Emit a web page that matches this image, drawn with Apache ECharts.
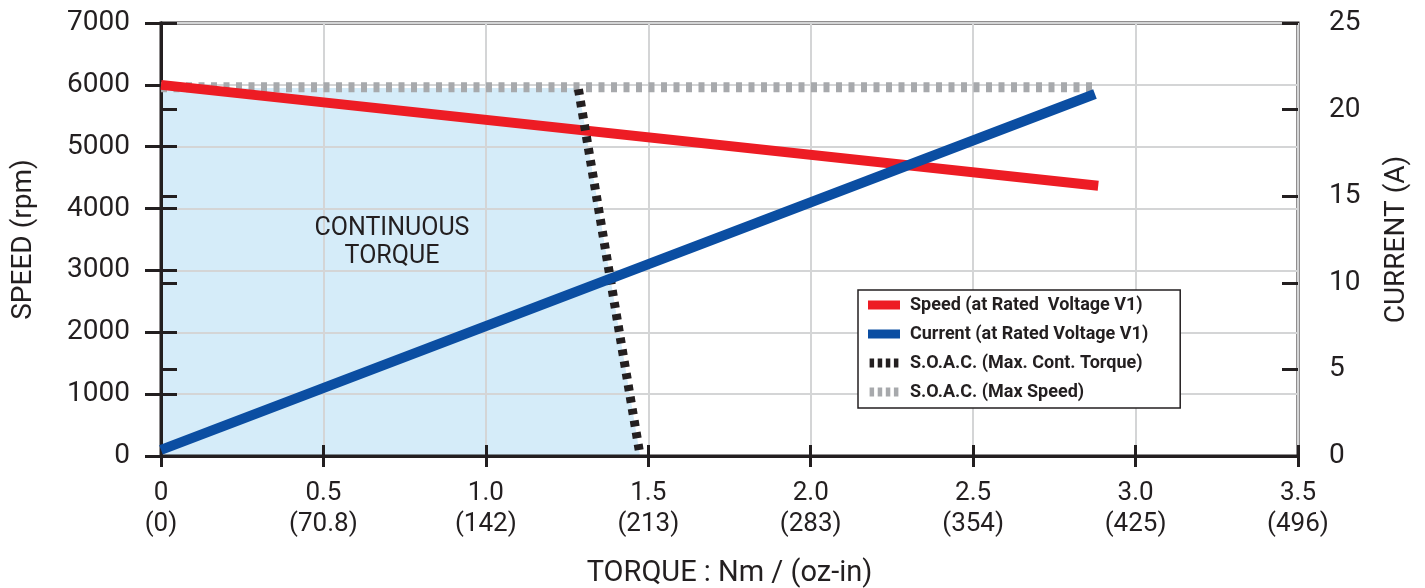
<!DOCTYPE html>
<html>
<head>
<meta charset="utf-8">
<script src="https://cdn.jsdelivr.net/npm/echarts@6/dist/echarts.min.js"></script>
<style>
  html, body { margin: 0; padding: 0; background: #fff; }
  #chart { width: 1425px; height: 588px; }
</style>
</head>
<body>
<div id="chart"></div>
<script>
// torque axis (Nm) and the matching oz-in labels
var torqueLabels = ["0", "0.5", "1.0", "1.5", "2.0", "2.5", "3.0", "3.5"];
var ozInLabels = ["0", "70.8", "142", "213", "283", "354", "425", "496"];

// [torque Nm, value]
var speedData = [[0, 6000], [2.885, 4370]];
var currentData = [[0, 0.35], [2.875, 20.9]];
var maxContTorque = [[1.285, 5930], [1.475, 0]];
var maxSpeed = [[0, 5960], [2.87, 5960]];
var continuousArea = [[0, 5950], [1.285, 5950], [1.475, 0]];

var ink = "#231f20";
var gridGray = "#d4d5d6";
var font = "Roboto";

var myChart = echarts.init(document.getElementById("chart"));

var dashIcon = "path://M0,0h5v10h-5z M9,0h5v10h-5z M18,0h5v10h-5z M27,0h5v10h-5z";

var option = {
  animation: false,
  grid: {
    left: 161,
    right: 127,
    top: 23,
    bottom: 132,
    outerBoundsMode: "none",
    show: true,
    borderColor: ink,
    borderWidth: 3,
  },
  legend: {
    orient: "vertical",
    left: 858,
    top: 290,
    padding: [5, 32, 6, 10],
    itemGap: 9,
    itemWidth: 32,
    itemHeight: 9,
    borderColor: ink,
    borderWidth: 1.5,
    backgroundColor: "#fff",
    textStyle: {
      fontFamily: font,
      fontSize: 18,
      fontWeight: "bold",
      color: ink,
      lineHeight: 20,
      padding: [0, 0, 0, 5],
    },
    data: [
      { name: "Speed (at Rated  Voltage V1)", icon: "rect" },
      { name: "Current (at Rated Voltage V1)", icon: "rect" },
      { name: "S.O.A.C. (Max. Cont. Torque)", icon: dashIcon },
      { name: "S.O.A.C. (Max Speed)", icon: dashIcon },
    ],
  },
  xAxis: [
    {
      type: "value",
      position: "bottom",
      min: 0,
      max: 3.5,
      interval: 0.5,
      name: "TORQUE : Nm / (oz-in)",
      nameLocation: "middle",
      nameGap: 103,
      nameTextStyle: { fontFamily: font, fontSize: 29, color: ink },
      axisLine: { show: true, lineStyle: { color: ink, width: 3 } },
      axisTick: { show: true, inside: false, length: 11, lineStyle: { color: ink, width: 3 } },
      axisLabel: {
        margin: 22,
        fontFamily: font,
        fontSize: 26,
        color: ink,
        lineHeight: 31,
        formatter: function (value) {
          var i = Math.round(value / 0.5);
          return torqueLabels[i] + "\n(" + ozInLabels[i] + ")";
        },
      },
      splitLine: { show: true, lineStyle: { color: gridGray, width: 2 } },
    },
    {
      type: "value",
      position: "bottom",
      min: 0,
      max: 3.5,
      interval: 0.5,
      axisLine: { show: false },
      axisTick: { show: true, inside: true, length: 11, lineStyle: { color: ink, width: 3 } },
      axisLabel: { show: false },
      splitLine: { show: false },
    },
  ],
  yAxis: [
    {
      type: "value",
      position: "left",
      min: 0,
      max: 7000,
      interval: 1000,
      name: "SPEED (rpm)",
      nameLocation: "middle",
      nameGap: 123,
      nameTextStyle: { fontFamily: font, fontSize: 28, color: ink },
      axisLine: { show: true, lineStyle: { color: ink, width: 3 } },
      axisTick: { show: true, inside: false, length: 16, lineStyle: { color: ink, width: 3 } },
      axisLabel: {
        margin: 31,
        fontFamily: font,
        fontSize: 28,
        color: ink,
        formatter: function (value) {
          return String(value);
        },
      },
      splitLine: { show: true, lineStyle: { color: gridGray, width: 2 } },
    },
    {
      type: "value",
      position: "right",
      min: 0,
      max: 25,
      interval: 5,
      name: "CURRENT (A)",
      nameLocation: "middle",
      nameGap: 85,
      nameRotate: 90,
      nameTextStyle: { fontFamily: font, fontSize: 28, color: ink },
      axisLine: { show: true, lineStyle: { color: ink, width: 3 } },
      axisTick: { show: true, inside: false, length: 16, lineStyle: { color: ink, width: 3 } },
      axisLabel: { margin: 31, fontFamily: font, fontSize: 28, color: ink },
      splitLine: { show: false },
    },
    {
      type: "value",
      position: "left",
      min: 0,
      max: 7000,
      interval: 1000,
      axisLine: { show: false },
      axisTick: { show: true, inside: true, length: 16, lineStyle: { color: ink, width: 3 } },
      axisLabel: { show: false },
      splitLine: { show: false },
    },
    {
      type: "value",
      position: "right",
      min: 0,
      max: 25,
      interval: 5,
      axisLine: { show: false },
      axisTick: { show: true, inside: true, length: 16, lineStyle: { color: ink, width: 3 } },
      axisLabel: { show: false },
      splitLine: { show: false },
    },
  ],
  series: [
    {
      name: "continuous",
      type: "line",
      z: -1,
      data: continuousArea,
      symbol: "none",
      lineStyle: { width: 0 },
      areaStyle: { color: "#d5ecf9", opacity: 1 },
      markPoint: {
        symbol: "circle",
        symbolSize: 0,
        data: [{ coord: [0.711, 3440] }],
        label: {
          show: true,
          formatter: "CONTINUOUS\nTORQUE",
          fontFamily: font,
          fontSize: 25,
          lineHeight: 28,
          color: ink,
          align: "center",
          verticalAlign: "middle",
        },
      },
    },
    {
      name: "S.O.A.C. (Max Speed)",
      type: "line",
      data: maxSpeed,
      symbol: "none",
      color: "#a7a9ac",
      lineStyle: { color: "#a7a9ac", width: 10, type: [6, 6.5] },
    },
    {
      name: "Speed (at Rated  Voltage V1)",
      type: "line",
      data: speedData,
      symbol: "none",
      color: "#ed1c24",
      lineStyle: { color: "#ed1c24", width: 10 },
    },
    {
      name: "S.O.A.C. (Max. Cont. Torque)",
      type: "line",
      data: maxContTorque,
      symbol: "none",
      color: ink,
      lineStyle: { color: ink, width: 9, type: [6, 6] },
    },
    {
      name: "Current (at Rated Voltage V1)",
      type: "line",
      yAxisIndex: 1,
      data: currentData,
      symbol: "none",
      color: "#0b4ea2",
      lineStyle: { color: "#0b4ea2", width: 10 },
    },
  ],
};

myChart.setOption(option);
</script>
</body>
</html>
